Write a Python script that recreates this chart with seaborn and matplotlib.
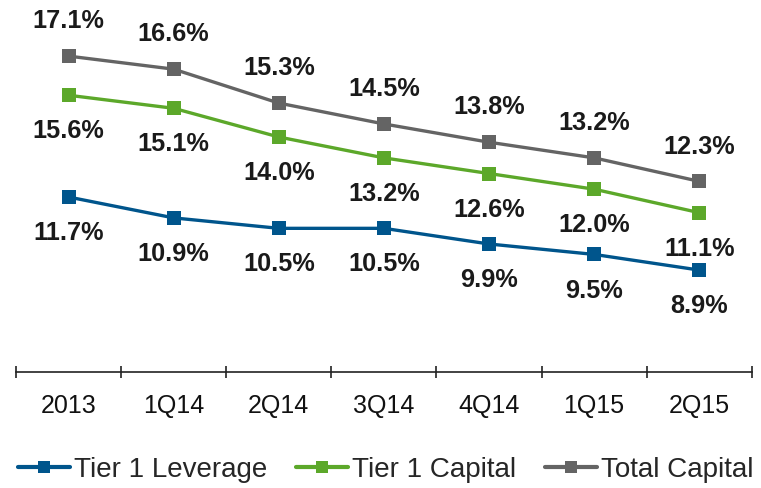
import matplotlib
matplotlib.use("Agg")
import matplotlib.pyplot as plt
import seaborn as sns
import pandas as pd
from matplotlib.lines import Line2D

categories = ["2013", "1Q14", "2Q14", "3Q14", "4Q14", "1Q15", "2Q15"]
tier1_leverage = [11.7, 10.9, 10.5, 10.5, 9.9, 9.5, 8.9]
tier1_capital = [15.6, 15.1, 14.0, 13.2, 12.6, 12.0, 11.1]
total_capital = [17.1, 16.6, 15.3, 14.5, 13.8, 13.2, 12.3]
series_names = ["Tier 1 Leverage", "Tier 1 Capital", "Total Capital"]
colors = ["#00558C", "#5CA82A", "#646464"]

rows = []
for name, vals in zip(series_names, [tier1_leverage, tier1_capital, total_capital]):
    for i, (c, v) in enumerate(zip(categories, vals)):
        rows.append({"x": i, "cat": c, "value": v, "series": name})
df = pd.DataFrame(rows)

sns.set_theme(style="white")
plt.rcParams["font.family"] = ["Liberation Sans", "DejaVu Sans"]

fig = plt.figure(figsize=(7.61, 4.88), dpi=100)
ax = fig.add_axes([0.021, 0.238, 0.967, 0.762])

sns.lineplot(data=df, x="x", y="value", hue="series", hue_order=series_names,
             palette=colors, marker="s", markersize=10, markeredgewidth=0,
             linewidth=2.4, ax=ax, legend=False)

ax.set_xlim(-0.5, 6.5)
ax.set_ylim(5.0, 19.25)

# data labels
offsets = {"Tier 1 Leverage": -26, "Tier 1 Capital": -26, "Total Capital": 25}
for name, vals in zip(series_names, [tier1_leverage, tier1_capital, total_capital]):
    for i, v in enumerate(vals):
        ax.annotate(f"{v:.1f}%", (i, v), xytext=(0, offsets[name]),
                    textcoords="offset points", ha="center", va="center",
                    fontsize=18.2, fontweight="bold", color="#1a1a1a")

for s in ["top", "right", "left"]:
    ax.spines[s].set_visible(False)
ax.spines["bottom"].set_color("#222222")
ax.spines["bottom"].set_linewidth(1.2)
ax.set_yticks([])
ax.set_xticks(range(len(categories)))
ax.set_xticklabels(categories, fontsize=18, color="#111111")
ax.set_xticks([i - 0.5 for i in range(len(categories) + 1)], minor=True)
ax.tick_params(axis="x", which="major", length=0, pad=16)
ax.tick_params(axis="x", which="minor", length=8, width=1.2, color="#222222",
               direction="inout", bottom=True)
ax.set_xlabel("")
ax.set_ylabel("")

handles = [Line2D([0], [0], color=c, marker="s", markersize=8, linewidth=3,
                  markeredgewidth=0) for c in colors]
fig.legend(handles, series_names, loc="lower center", bbox_to_anchor=(0.507, -0.03),
           ncol=3, frameon=False, fontsize=20, handlelength=1.85,
           handletextpad=0.15, columnspacing=1.05, borderpad=0.2)

fig.savefig("out.png", dpi=100)
